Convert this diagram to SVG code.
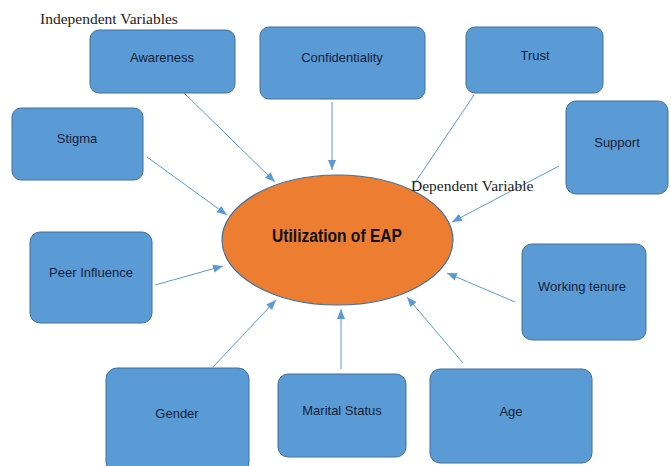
<svg xmlns="http://www.w3.org/2000/svg" width="671" height="466" viewBox="0 0 671 466">
  <style>
    .box { fill: #5B9BD5; stroke: #41719C; stroke-width: 1; }
    .lbl { font-family: "Liberation Sans", Arial, sans-serif; font-size: 13px; fill: #14213a; text-anchor: middle; dominant-baseline: central; }
    .cap { font-family: "Liberation Serif", "Times New Roman", serif; font-size: 15.5px; fill: #222; }
    .link { stroke: #5B9BD5; stroke-width: 1; fill: none; }
    .arrow { marker-end: url(#head); }
  </style>
  <defs>
    <marker id="head" markerUnits="userSpaceOnUse" markerWidth="10" markerHeight="10" viewBox="0 0 10 10" refX="10" refY="5" orient="auto">
      <path d="M0,1 L10,5 L0,9 Z" fill="#5B9BD5"/>
    </marker>
  </defs>

  <rect width="671" height="466" fill="#ffffff"/>

  <!-- connectors -->
  <g id="connectors">
    <line class="link arrow" x1="183" y1="92" x2="275" y2="182"/>
    <line class="link arrow" x1="332" y1="102" x2="332" y2="170"/>
    <line class="link" x1="474" y1="95" x2="414" y2="184"/>
    <line class="link arrow" x1="559" y1="166" x2="452" y2="222"/>
    <line class="link arrow" x1="147" y1="157" x2="227" y2="215"/>
    <line class="link arrow" x1="155" y1="285" x2="223" y2="266"/>
    <line class="link arrow" x1="515" y1="302" x2="447" y2="273"/>
    <line class="link arrow" x1="213" y1="367" x2="276" y2="300"/>
    <line class="link arrow" x1="341" y1="369" x2="341" y2="309"/>
    <line class="link arrow" x1="463" y1="363" x2="407" y2="297"/>
  </g>

  <!-- dependent variable -->
  <g id="utilization">
    <ellipse cx="337.5" cy="240" rx="115.5" ry="65" fill="#ED7D31" stroke="#41719C" stroke-width="1.2"/>
    <text x="337" y="236" font-family="Liberation Sans, Arial, sans-serif" font-weight="bold" font-size="18" fill="#111" text-anchor="middle" dominant-baseline="central" textLength="130" lengthAdjust="spacingAndGlyphs">Utilization of EAP</text>
  </g>

  <!-- independent variables -->
  <g id="awareness">
    <rect class="box" x="90" y="30" width="145" height="63" rx="9"/>
    <text class="lbl" x="162" y="57">Awareness</text>
  </g>
  <g id="confidentiality">
    <rect class="box" x="260" y="27" width="165" height="72" rx="9"/>
    <text class="lbl" x="342" y="57">Confidentiality</text>
  </g>
  <g id="trust">
    <rect class="box" x="466" y="27" width="137" height="66" rx="9"/>
    <text class="lbl" x="535" y="55">Trust</text>
  </g>
  <g id="support">
    <rect class="box" x="566" y="101" width="102" height="93" rx="10"/>
    <text class="lbl" x="617" y="142">Support</text>
  </g>
  <g id="stigma">
    <rect class="box" x="12" y="108" width="131" height="72" rx="9"/>
    <text class="lbl" x="77" y="138">Stigma</text>
  </g>
  <g id="peer-influence">
    <rect class="box" x="30" y="232" width="122" height="91" rx="10"/>
    <text class="lbl" x="91" y="272">Peer Influence</text>
  </g>
  <g id="working-tenure">
    <rect class="box" x="522" y="244" width="124" height="96" rx="10"/>
    <text class="lbl" x="582" y="286">Working tenure</text>
  </g>
  <g id="gender">
    <rect class="box" x="106" y="368" width="143" height="105" rx="11"/>
    <text class="lbl" x="177" y="413">Gender</text>
  </g>
  <g id="marital-status">
    <rect class="box" x="278" y="374" width="128" height="83" rx="10"/>
    <text class="lbl" x="342" y="410">Marital Status</text>
  </g>
  <g id="age">
    <rect class="box" x="430" y="369" width="162" height="94" rx="10"/>
    <text class="lbl" x="511" y="411">Age</text>
  </g>

  <!-- captions -->
  <text class="cap" x="40" y="24">Independent Variables</text>
  <text class="cap" x="411" y="191">Dependent Variable</text>
</svg>
